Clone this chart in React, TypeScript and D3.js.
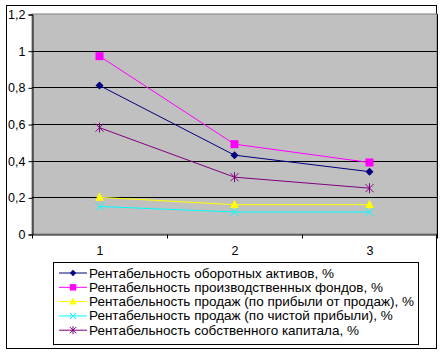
import React, { useEffect, useRef } from 'react';
import * as d3 from 'd3';

const categories = ['1', '2', '3'];
const yTicks = [0, 0.2, 0.4, 0.6, 0.8, 1, 1.2];

const seriesNames = [
  'Рентабельность оборотных активов, %',
  'Рентабельность производственных фондов, %',
  'Рентабельность продаж (по прибыли от продаж), %',
  'Рентабельность продаж (по чистой прибыли), %',
  'Рентабельность собственного капитала, %',
];
const activesValues = [0.81, 0.43, 0.34];
const fundsValues = [0.97, 0.49, 0.39];
const salesValues = [0.2, 0.16, 0.16];
const netValues = [0.15, 0.12, 0.12];
const equityValues = [0.58, 0.31, 0.25];

const colors = ['#000080', '#FF00FF', '#FFFF00', '#00FFFF', '#800080'];
const markers = ['diamond', 'square', 'triangle', 'x', 'star'];

const drawMarker = (g: any, type: string, cx: number, cy: number, color: string, s = 1) => {
  if (type === 'diamond') {
    g.append('path')
      .attr('d', `M${cx},${cy - 4 * s}L${cx + 4 * s},${cy}L${cx},${cy + 4 * s}L${cx - 4 * s},${cy}Z`)
      .attr('fill', color);
  } else if (type === 'square') {
    g.append('rect')
      .attr('x', cx - 4 * s).attr('y', cy - 4 * s)
      .attr('width', 8 * s).attr('height', 8 * s)
      .attr('fill', color);
  } else if (type === 'triangle') {
    g.append('path')
      .attr('d', `M${cx},${cy - 5 * s}L${cx + 4.5 * s},${cy + 3.5 * s}L${cx - 4.5 * s},${cy + 3.5 * s}Z`)
      .attr('fill', color);
  } else if (type === 'x') {
    g.append('path')
      .attr('d', `M${cx - 4 * s},${cy - 4 * s}L${cx + 4 * s},${cy + 4 * s}M${cx + 4 * s},${cy - 4 * s}L${cx - 4 * s},${cy + 4 * s}`)
      .attr('stroke', color).attr('stroke-width', 1).attr('fill', 'none');
  } else {
    g.append('path')
      .attr('d', `M${cx - 4 * s},${cy - 4 * s}L${cx + 4 * s},${cy + 4 * s}M${cx + 4 * s},${cy - 4 * s}L${cx - 4 * s},${cy + 4 * s}M${cx},${cy - 5 * s}L${cx},${cy + 5 * s}`)
      .attr('stroke', color).attr('stroke-width', 1).attr('fill', 'none');
  }
};

const App: React.FC = () => {
  const chartRef = useRef<SVGSVGElement | null>(null);

  useEffect(() => {
    const allSeries = [activesValues, fundsValues, salesValues, netValues, equityValues];
    const svg = d3.select(chartRef.current);
    svg.selectAll('*').remove();

    const font = 'Arial, "Liberation Sans", sans-serif';
    const plot = { left: 32, right: 437, top: 14, bottom: 234 };

    svg.append('rect')
      .attr('x', 6.5).attr('y', 5.5).attr('width', 430).attr('height', 343)
      .attr('fill', '#fff').attr('stroke', '#000');

    const x = d3.scaleBand<string>()
      .domain(categories)
      .range([plot.left, plot.right]);

    const y = d3.scaleLinear()
      .domain([0, 1.2])
      .range([plot.bottom, plot.top]);

    svg.append('rect')
      .attr('x', plot.left).attr('y', plot.top)
      .attr('width', plot.right - plot.left).attr('height', plot.bottom - plot.top)
      .attr('fill', '#C0C0C0').attr('stroke', '#808080');

    // gridlines
    svg.append('g')
      .selectAll('line')
      .data(yTicks.filter(t => t > 0 && t < 1.2))
      .join('line')
      .attr('x1', plot.left).attr('x2', plot.right)
      .attr('y1', d => Math.round(y(d)) + 0.5).attr('y2', d => Math.round(y(d)) + 0.5)
      .attr('stroke', '#000');

    const yAxis = svg.append('g')
      .attr('transform', `translate(${plot.left + 0.5},0.5)`)
      .call(d3.axisLeft(y).tickValues(yTicks).tickSize(4).tickPadding(3)
        .tickFormat(d => String(d).replace('.', ',')));
    yAxis.select('.domain').attr('stroke', '#000');
    yAxis.selectAll('text').attr('font-family', font).attr('font-size', 12.5).attr('fill', '#000');

    const xAxis = svg.append('g')
      .attr('transform', `translate(0.5,${plot.bottom + 0.5})`)
      .call(d3.axisBottom(x).tickSize(0).tickPadding(12));
    xAxis.select('.domain').attr('stroke', '#000');
    xAxis.selectAll('text').attr('font-family', font).attr('font-size', 12.5).attr('fill', '#000');
    // tick marks at category boundaries
    xAxis.selectAll('line.sep')
      .data([plot.left, plot.left + x.bandwidth(), plot.left + 2 * x.bandwidth(), plot.right])
      .join('line')
      .attr('class', 'sep')
      .attr('x1', d => d).attr('x2', d => d)
      .attr('y1', 0).attr('y2', 4)
      .attr('stroke', '#000');

    svg.append('line')
      .attr('x1', plot.right + 0.5).attr('x2', plot.right + 0.5)
      .attr('y1', plot.top).attr('y2', plot.bottom + 4)
      .attr('stroke', '#000');

    const cx = (c: string) => (x(c) as number) + x.bandwidth() / 2;

    allSeries.forEach((vals, i) => {
      const data = categories.map((c, j) => ({ c, v: vals[j] }));
      svg.append('path')
        .datum(data)
        .attr('fill', 'none')
        .attr('stroke', colors[i])
        .attr('stroke-width', 1)
        .attr('d', d3.line<{ c: string; v: number }>()
          .x(d => cx(d.c))
          .y(d => y(d.v)));
      const g = svg.append('g');
      data.forEach(d => drawMarker(g, markers[i], cx(d.c), y(d.v), colors[i]));
    });

    // legend
    const lg = svg.append('g');
    lg.append('rect')
      .attr('x', 53.5).attr('y', 262.5).attr('width', 365).attr('height', 82)
      .attr('fill', '#fff').attr('stroke', '#000');
    seriesNames.forEach((name, i) => {
      const ly = 273 + i * 14.3;
      lg.append('line')
        .attr('x1', 59).attr('x2', 87)
        .attr('y1', ly).attr('y2', ly)
        .attr('stroke', colors[i]);
      drawMarker(lg, markers[i], 73, ly, colors[i], 0.8);
      lg.append('text')
        .attr('x', 89).attr('y', ly + 4.5)
        .attr('font-family', font).attr('font-size', 13.5)
        .attr('fill', '#000')
        .text(name);
    });
  }, []);

  return (
    <div style={{ position: 'absolute', left: 0, top: 0 }}>
      <svg ref={chartRef} width={444} height={354}></svg>
    </div>
  );
};

export default App;
